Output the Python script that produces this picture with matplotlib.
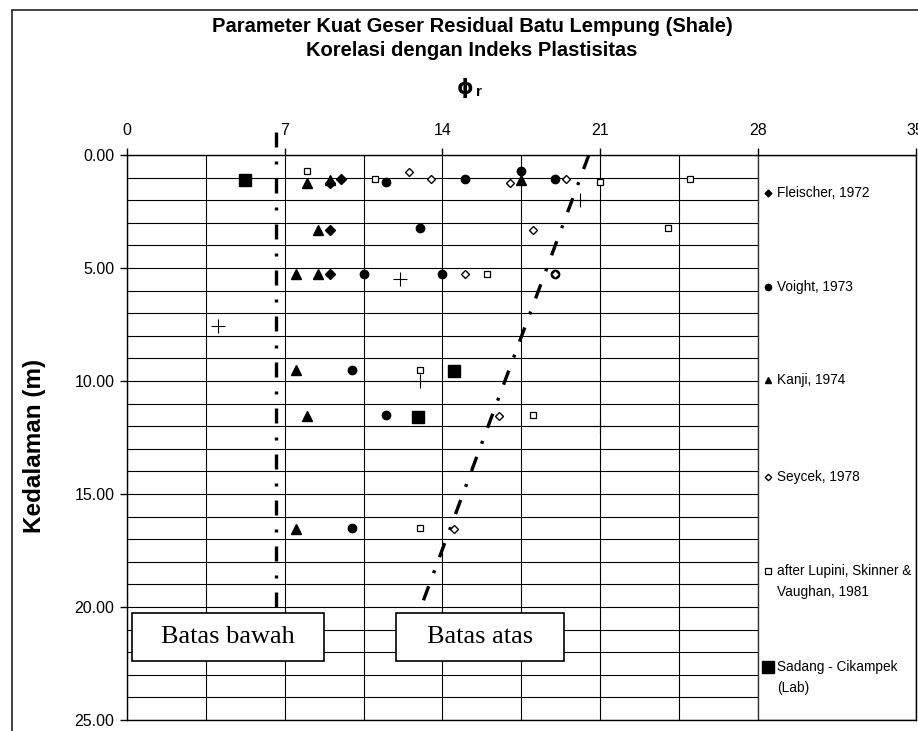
import numpy as np
import matplotlib
matplotlib.use("Agg")
import matplotlib.pyplot as plt
from matplotlib.patches import Rectangle

# ----------------------------------------------------------------------------------------------------------------------
# Data (phi_r in degrees, depth in m)

fleischer_phi = [9.0, 9.5, 9.0, 9.0]
fleischer_depth = [1.25, 1.05, 3.3, 5.25]

voight_phi = [11.5, 15.0, 17.5, 19.0, 13.0, 10.5, 14.0, 19.0, 10.0, 11.5, 10.0]
voight_depth = [1.2, 1.05, 0.7, 1.05, 3.25, 5.25, 5.25, 5.25, 9.5, 11.5, 16.5]

kanji_phi = [8.0, 9.0, 17.5, 8.5, 7.5, 8.5, 7.5, 8.0, 7.5]
kanji_depth = [1.25, 1.1, 1.1, 3.3, 5.25, 5.25, 9.5, 11.55, 16.55]

seycek_phi = [12.5, 13.5, 17.0, 19.5, 18.0, 15.0, 19.0, 16.5, 14.5]
seycek_depth = [0.75, 1.05, 1.25, 1.05, 3.3, 5.25, 5.25, 11.55, 16.55]

lupini_phi = [8.0, 11.0, 21.0, 25.0, 24.0, 16.0, 13.0, 18.0, 13.0]
lupini_depth = [0.7, 1.05, 1.2, 1.05, 3.25, 5.25, 9.5, 11.5, 16.5]

sadang_phi = [5.25, 14.5, 12.9]
sadang_depth = [1.1, 9.55, 11.6]

other_phi = [20.1, 12.1, 4.05, 13.0, 21.0]
other_depth = [2.0, 5.5, 7.55, 10.0, 12.0]

lower_bound_phi = [6.6, 6.6]
lower_bound_depth = [-1.0, 20.0]
upper_bound_phi = [20.5, 12.9]
upper_bound_depth = [0.0, 20.4]

x_ticks = [0, 7, 14, 21, 28, 35]
y_ticks = [0, 5, 10, 15, 20, 25]

# ----------------------------------------------------------------------------------------------------------------------

plt.rcParams["font.family"] = ["Liberation Sans", "DejaVu Sans"]

W, H = 918, 731
fig = plt.figure(figsize=(W / 100, H / 100), dpi=100)

# Outer chart border
fig.patches.append(Rectangle((12 / W, -0.1), 2.0, (H - 10) / H + 0.1, transform=fig.transFigure,
                             fill=False, edgecolor="#222222", linewidth=1.2, clip_on=False))

ax = fig.add_axes([127 / W, 1 - 720 / H, (915.5 - 127) / W, (720 - 155) / H])
ax.set_xlim(0, 35)
ax.set_ylim(25, 0)

# Axis on top, ticks outward, grid every 3.5 / 1
ax.xaxis.tick_top()
ax.set_xticks(x_ticks)
ax.set_xticks(np.arange(0, 35.1, 3.5), minor=True)
ax.set_yticks(y_ticks)
ax.set_yticklabels(["%.2f" % v for v in y_ticks])
ax.set_yticks(np.arange(0, 25.1, 1), minor=True)
ax.tick_params(which="major", direction="out", length=5, width=1, labelsize=11.5, pad=4)
ax.tick_params(axis="x", which="major", pad=7)
ax.tick_params(which="minor", length=0)
ax.set_axisbelow(True)
ax.grid(which="both", color="black", linewidth=0.8)
for sp in ax.spines.values():
    sp.set_color("black")
    sp.set_linewidth(1)

# Legend panel covers the right part of the plot area
ax.add_patch(Rectangle((28, 0), 7, 25, facecolor="white", edgecolor="#333333", linewidth=1.0, zorder=1.5))

# Series
series = [
    (fleischer_phi, fleischer_depth, dict(marker="D", ms=4.6, mfc="black", mec="black"), "Fleischer, 1972"),
    (voight_phi, voight_depth, dict(marker="o", ms=6, mfc="black", mec="black"), "Voight, 1973"),
    (kanji_phi, kanji_depth, dict(marker="^", ms=6.5, mfc="black", mec="black"), "Kanji, 1974"),
    (seycek_phi, seycek_depth, dict(marker="D", ms=4.4, mfc="white", mec="black", mew=1), "Seycek, 1978"),
    (lupini_phi, lupini_depth, dict(marker="s", ms=5, mfc="white", mec="black", mew=0.9),
     "after Lupini, Skinner &\nVaughan, 1981"),
    (sadang_phi, sadang_depth, dict(marker="s", ms=9, mfc="black", mec="black"), "Sadang - Cikampek\n(Lab)"),
]
for xs, ys, style, label in series:
    ax.plot(xs, ys, linestyle="none", zorder=4, **style)

ax.plot(other_phi, other_depth, linestyle="none", marker="+", ms=10, mew=0.8, color="black", zorder=4)

# Bound lines
dash_style = (0, (4.5, 4.2, 0.9, 4.2))
ax.plot(lower_bound_phi, lower_bound_depth, color="black", linewidth=2.4, linestyle=dash_style,
        clip_on=False, zorder=3)
ax.plot(upper_bound_phi, upper_bound_depth, color="black", linewidth=2.4, linestyle=dash_style, zorder=3)

# Legend entries placed down the panel
legend_rows = [1.68, 5.84, 9.96, 14.25, 18.4, 22.65]
for (xs, ys, style, label), row in zip(series, legend_rows):
    st = dict(style)
    if st["ms"] < 6 or st["marker"] != "s":
        st["ms"] = st["ms"] * 0.75
    ax.plot([28.45], [row], linestyle="none", zorder=4, clip_on=False, **st)
    for i, ln in enumerate(label.split("\n")):
        ax.text(28.85, row + i * 0.95, ln, fontsize=9.8, ha="left", va="center", zorder=5)

# Text boxes for the bound lines
for x0, x1, txt in [(0.21, 8.74, "Batas bawah"), (11.94, 19.4, "Batas atas")]:
    ax.add_patch(Rectangle((x0, 20.25), x1 - x0, 2.14, facecolor="white", edgecolor="black",
                           linewidth=1.2, zorder=6))
    ax.text((x0 + x1) / 2, 21.32, txt, fontsize=19, family="Liberation Serif", ha="center", va="center",
            zorder=7)

# Titles
fig.text(472 / W, 1 - 27 / H, "Parameter Kuat Geser Residual Batu Lempung (Shale)", fontsize=14.5,
         fontweight="bold", ha="center", va="center")
fig.text(472 / W, 1 - 50 / H, "Korelasi dengan Indeks Plastisitas", fontsize=14.5,
         fontweight="bold", ha="center", va="center")
fig.text(473 / W, 1 - 88 / H, "\u03d5", fontsize=15, fontweight="bold", family="DejaVu Sans",
         ha="right", va="center")
fig.text(476 / W, 1 - 92 / H, "r", fontsize=11, fontweight="bold", ha="left", va="center")
fig.text(35 / W, 1 - 446 / H, "Kedalaman (m)", fontsize=17.5, fontweight="bold", rotation=90,
         ha="center", va="center")

fig.savefig("out.png", dpi=100)
